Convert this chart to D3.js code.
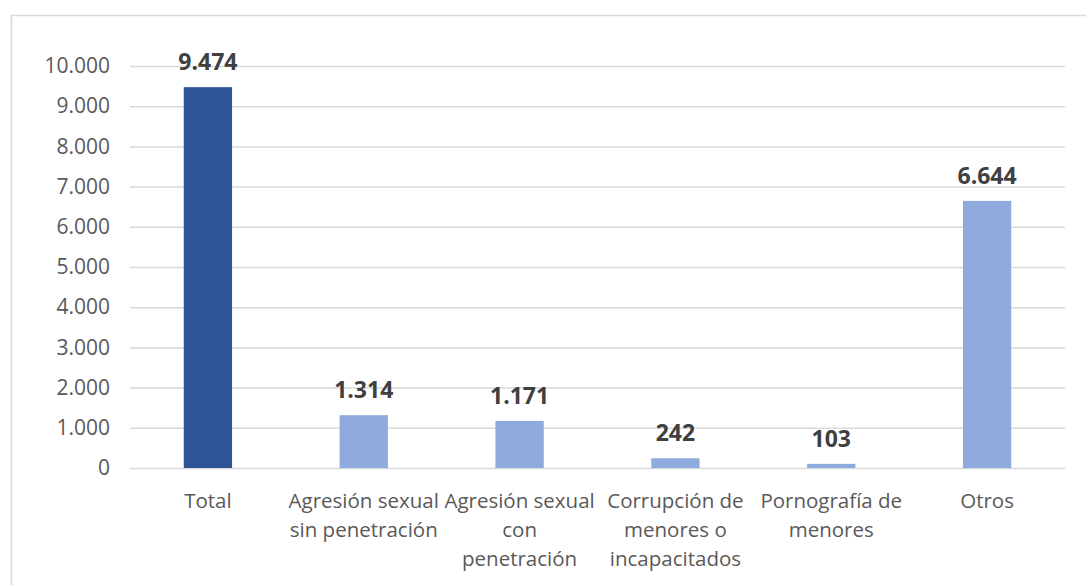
<!DOCTYPE html>
<html>
<head>
<meta charset="utf-8">
<script src="https://cdn.jsdelivr.net/npm/d3@7"></script>
<style>
  body { margin: 0; background: #fff; }
  svg text { font-family: "Open Sans", sans-serif; }
</style>
</head>
<body>
<svg id="chart" width="1086" height="585"></svg>
<script>
// categories (line breaks as in the original labels) and values
var categories = ["Total", "Agresión sexual\nsin penetración", "Agresión sexual\ncon\npenetración",
  "Corrupción de\nmenores o\nincapacitados", "Pornografía de\nmenores", "Otros"];
var values = [9474, 1314, 1171, 242, 103, 6644];
var yTicks = [0, 1000, 2000, 3000, 4000, 5000, 6000, 7000, 8000, 9000, 10000];

var data = categories.map(function(c, i) { return {name: c, value: values[i]}; });

// spanish number format: 9.474
var es = d3.formatLocale({decimal: ",", thousands: ".", grouping: [3], currency: ["", " €"]});
var fmt = es.format(",d");

var svg = d3.select("#chart"),
    margin = {top: 66, right: 21, bottom: 117, left: 130},
    width = +svg.attr("width") - margin.left - margin.right,
    height = +svg.attr("height") - margin.top - margin.bottom;

// outer chart border
svg.append("rect")
    .attr("x", 11.5).attr("y", 15.5)
    .attr("width", 1100).attr("height", 600)
    .attr("fill", "none")
    .attr("stroke", "#d9d9d9")
    .attr("stroke-width", 1.5);

var x = d3.scaleBand().domain(categories).range([0, width]).paddingInner(0.69).paddingOuter(0.345),
    y = d3.scaleLinear().domain([0, 10000]).range([height, 0]);

var g = svg.append("g")
    .attr("transform", "translate(" + margin.left + "," + margin.top + ")");

// gridlines
g.append("g")
    .call(d3.axisLeft(y).tickValues(yTicks).tickSize(-width).tickFormat(""))
    .call(function(a) { a.select(".domain").remove(); })
    .selectAll("line")
    .attr("stroke", "#d9d9d9")
    .attr("stroke-width", 1.5);

// y axis labels
g.append("g")
    .call(d3.axisLeft(y).tickValues(yTicks).tickSize(0).tickPadding(20).tickFormat(fmt))
    .call(function(a) { a.select(".domain").remove(); })
    .selectAll("text")
    .attr("fill", "#595959")
    .style("font-size", "21px");

// bars
g.selectAll(".bar")
  .data(data)
  .enter().append("rect")
    .attr("class", "bar")
    .attr("x", function(d) { return x(d.name); })
    .attr("y", function(d) { return y(d.value); })
    .attr("width", x.bandwidth())
    .attr("height", function(d) { return height - y(d.value); })
    .attr("fill", function(d, i) { return i === 0 ? "#2f5597" : "#8faadc"; });

// value labels
g.selectAll(".val")
  .data(data)
  .enter().append("text")
    .attr("class", "val")
    .attr("x", function(d) { return x(d.name) + x.bandwidth() / 2; })
    .attr("y", function(d) { return y(d.value) - 17; })
    .attr("text-anchor", "middle")
    .attr("fill", "#404040")
    .style("font-size", "23px")
    .style("font-weight", "bold")
    .text(function(d) { return fmt(d.value); });

// category labels, one tspan per line
var cat = g.selectAll(".cat")
  .data(data)
  .enter().append("text")
    .attr("class", "cat")
    .attr("text-anchor", "middle")
    .attr("fill", "#595959")
    .style("font-size", "20.5px")
    .attr("transform", function(d) { return "translate(" + (x(d.name) + x.bandwidth() / 2) + "," + (height + 40) + ")"; });

cat.selectAll("tspan")
  .data(function(d) { return d.name.split("\n"); })
  .enter().append("tspan")
    .attr("x", 0)
    .attr("y", function(d, i) { return i * 29; })
    .text(function(d) { return d; });
</script>
</body>
</html>
